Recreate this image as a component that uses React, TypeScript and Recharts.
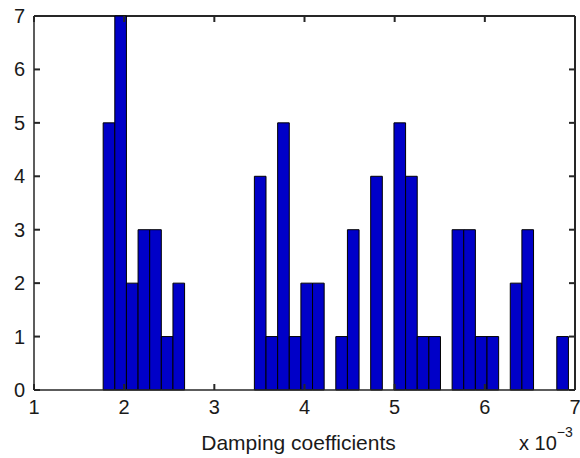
import React from 'react';
import { BarChart, Bar, XAxis, YAxis, Label, CartesianGrid, Rectangle } from 'recharts';

// bin centres, in units of 1e-3
const binCentres = [
  1.827, 1.956, 2.085, 2.214, 2.343, 2.472, 2.601, 2.730, 2.859, 2.988,
  3.117, 3.246, 3.375, 3.504, 3.633, 3.762, 3.891, 4.020, 4.149, 4.278,
  4.407, 4.536, 4.665, 4.794, 4.923, 5.052, 5.181, 5.310, 5.439, 5.568,
  5.697, 5.826, 5.955, 6.084, 6.213, 6.342, 6.471, 6.600, 6.729, 6.858,
];
const counts = [
  5, 7, 2, 3, 3, 1, 2, 0, 0, 0,
  0, 0, 0, 4, 1, 5, 1, 2, 2, 0,
  1, 3, 0, 4, 0, 5, 4, 1, 1, 0,
  3, 3, 1, 1, 0, 2, 3, 0, 0, 1,
];
const binWidth = 0.129;
const xTicks = [1, 2, 3, 4, 5, 6, 7];
const yTicks = [0, 1, 2, 3, 4, 5, 6, 7];

const data = binCentres.map((c, i) => ({ c, n: counts[i] }));

const W = 580;
const H = 458;
const margin = { top: 16, right: 5, bottom: 0, left: 0 };
const yAxisW = 34;
const xAxisH = 68;
const plotL = margin.left + yAxisW;
const plotR = W - margin.right;
const plotT = margin.top;
const plotW = plotR - plotL;
const barPx = (plotW * binWidth) / (xTicks[xTicks.length - 1] - xTicks[0]);
const tickLen = 6;

const font = '"Liberation Sans", Arial, Helvetica, sans-serif';
const axisColor = '#262626';
const lineW = 2;
const textColor = '#1a1a1a';

// x tick: y is the axis line (tickSize 0); inward marks bottom and top
const XTick = (props: any) => {
  const { x, y, payload } = props;
  return (
    <g>
      <line x1={x} y1={y} x2={x} y2={y - tickLen} stroke={axisColor} strokeWidth={lineW} />
      <line x1={x} y1={plotT} x2={x} y2={plotT + tickLen} stroke={axisColor} strokeWidth={lineW} />
      <text x={x} y={y + 24} textAnchor="middle" fontSize={20} fontFamily={font} fill={textColor}>
        {payload.value}
      </text>
    </g>
  );
};

// y tick: x is the axis line (tickSize 0); inward marks left and right
const YTick = (props: any) => {
  const { x, y, payload } = props;
  return (
    <g>
      <line x1={x} y1={y} x2={x + tickLen} y2={y} stroke={axisColor} strokeWidth={lineW} />
      <line x1={plotR} y1={y} x2={plotR - tickLen} y2={y} stroke={axisColor} strokeWidth={lineW} />
      <text x={x - 9} y={y + 7} textAnchor="end" fontSize={20} fontFamily={font} fill={textColor}>
        {payload.value}
      </text>
    </g>
  );
};

// full-width histogram bar centred on the library's bar position
const HistBar = (props: any) => {
  const { x, y, width, height } = props;
  if (!height) return null;
  const cx = x + width / 2;
  return (
    <Rectangle x={cx - barPx / 2} y={y} width={barPx} height={height} fill="#0000c8" stroke="#000" strokeWidth={1} />
  );
};

export default function App() {
  return (
    <div style={{ position: 'absolute', left: 0, top: 0, background: '#fff' }}>
      <BarChart width={W} height={H} data={data} margin={margin}>
        <CartesianGrid horizontalValues={[7]} verticalValues={[7]} stroke={axisColor} strokeWidth={lineW} />
        <XAxis
          dataKey="c"
          type="number"
          domain={[1, 7]}
          ticks={xTicks}
          height={xAxisH}
          axisLine={{ stroke: axisColor, strokeWidth: 1.5 }}
          tickSize={0}
          tickMargin={0}
          tick={XTick}
          interval={0}
        >
          <Label
            content={({ viewBox }: any) => (
              <g fontFamily={font} fill={textColor}>
                <text x={viewBox.x + viewBox.width / 2 - 6} y={viewBox.y + 60} textAnchor="middle" fontSize={21}>
                  Damping coefficients
                </text>
                <text x={519} y={viewBox.y + 60} fontSize={20}>
                  x 10
                  <tspan dy={-13} fontSize={14}>−3</tspan>
                </text>
              </g>
            )}
          />
        </XAxis>
        <YAxis
          type="number"
          domain={[0, 7]}
          ticks={yTicks}
          width={yAxisW}
          axisLine={{ stroke: axisColor, strokeWidth: 1.5 }}
          tickSize={0}
          tickMargin={0}
          tick={YTick}
          interval={0}
        />
        <Bar dataKey="n" shape={HistBar} barSize={barPx} isAnimationActive={false} />
      </BarChart>
    </div>
  );
}
